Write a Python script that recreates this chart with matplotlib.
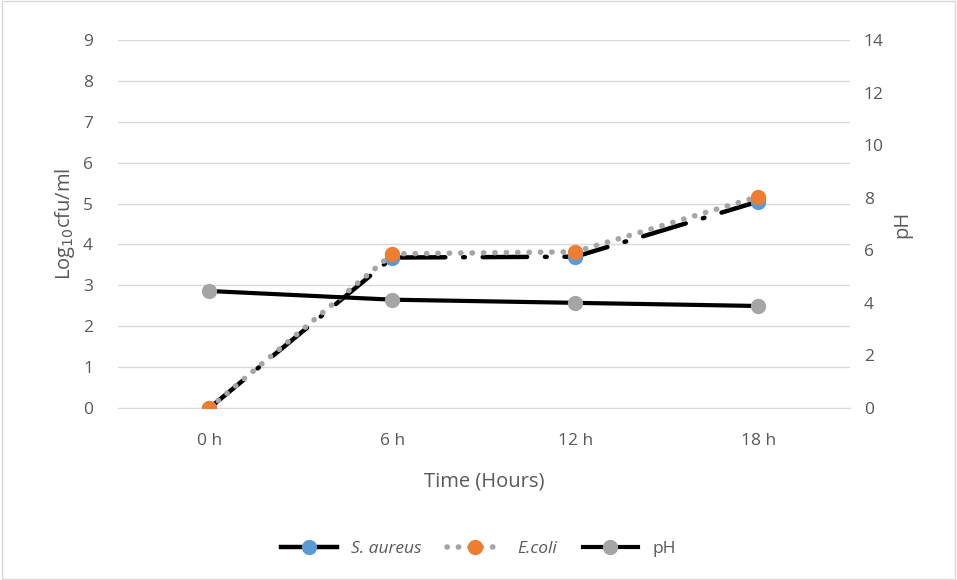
import matplotlib
matplotlib.use("Agg")
import matplotlib.pyplot as plt
from matplotlib.lines import Line2D

plt.rcParams["font.family"] = ["Open Sans", "DejaVu Sans"]

times = ["0 h", "6 h", "12 h", "18 h"]
s_aureus = [0.0, 3.68, 3.70, 5.05]
e_coli = [0.0, 3.77, 3.82, 5.17]
ph = [4.45, 4.12, 4.0, 3.88]

grey_txt = "#595959"

fig = plt.figure(figsize=(9.57, 5.8), dpi=100)
ax = fig.add_axes([0.1233, 0.2966, 0.7647, 0.6344])
ax2 = ax.twinx()

x = list(range(len(times)))

ax.plot(x, s_aureus, color="black", lw=3.2, linestyle=(0, (10, 4, 0.4, 4)),
        dash_capstyle="round", marker="o", markersize=10,
        markerfacecolor="#5B9BD5", markeredgecolor="#5B9BD5", zorder=3)
ax.plot(x, e_coli, color="#A5A5A5", lw=4, linestyle=(0, (0.05, 2.0)),
        dash_capstyle="round", marker="o", markersize=10,
        markerfacecolor="#ED7D31", markeredgecolor="#ED7D31", zorder=4)
ax2.plot(x, ph, color="black", lw=3, marker="o", markersize=10,
         markerfacecolor="#A5A5A5", markeredgecolor="#A5A5A5")

ax.set_xlim(-0.5, len(times) - 0.5)
ax.set_ylim(0, 9)
ax.set_yticks(range(0, 10))
ax2.set_ylim(0, 14)
ax2.set_yticks(range(0, 15, 2))
ax.set_xticks(x)
ax.set_xticklabels(times)

ax.grid(axis="y", color="#D9D9D9", lw=1)
ax.set_axisbelow(True)
for a in (ax, ax2):
    for s in a.spines.values():
        s.set_visible(False)
    a.tick_params(length=0, labelsize=12.5, colors=grey_txt)
ax.tick_params(axis="y", pad=18)
ax.tick_params(axis="x", pad=18)
ax2.tick_params(axis="y", pad=10)
ax.spines["bottom"].set_visible(True)
ax.spines["bottom"].set_color("#D9D9D9")

ax.set_xlabel("Time (Hours)", fontsize=14.5, color=grey_txt, labelpad=16)
ax.set_ylabel(r"Log$_{10}$cfu/ml", fontsize=14.5, color=grey_txt, labelpad=4)
ax2.set_ylabel("pH", fontsize=14.5, color=grey_txt, labelpad=6)

handles = [
    Line2D([], [], color="black", lw=3.2, marker="o", markersize=10,
           markerfacecolor="#5B9BD5", markeredgecolor="#5B9BD5"),
    Line2D([], [], color="#A5A5A5", lw=4, linestyle=(0, (0.05, 2.0)),
           dash_capstyle="round", marker="o", markersize=10,
           markerfacecolor="#ED7D31", markeredgecolor="#ED7D31"),
    Line2D([], [], color="black", lw=3, marker="o", markersize=10,
           markerfacecolor="#A5A5A5", markeredgecolor="#A5A5A5"),
]
leg = fig.legend(handles, ["S. aureus", "E.coli", "pH"], loc="center",
                 bbox_to_anchor=(0.5, 0.053), ncol=3, frameon=False,
                 fontsize=12.5, handlelength=3.2, columnspacing=1.5,
                 handletextpad=0.8)
for t in leg.get_texts():
    t.set_color(grey_txt)
leg.get_texts()[0].set_style("italic")
leg.get_texts()[1].set_style("italic")

fig.patches.append(plt.Rectangle((0.002, 0.002), 0.996, 0.996,
                                 transform=fig.transFigure, fill=False,
                                 edgecolor="#D9D9D9", lw=1))

fig.savefig("out.png", dpi=100)
